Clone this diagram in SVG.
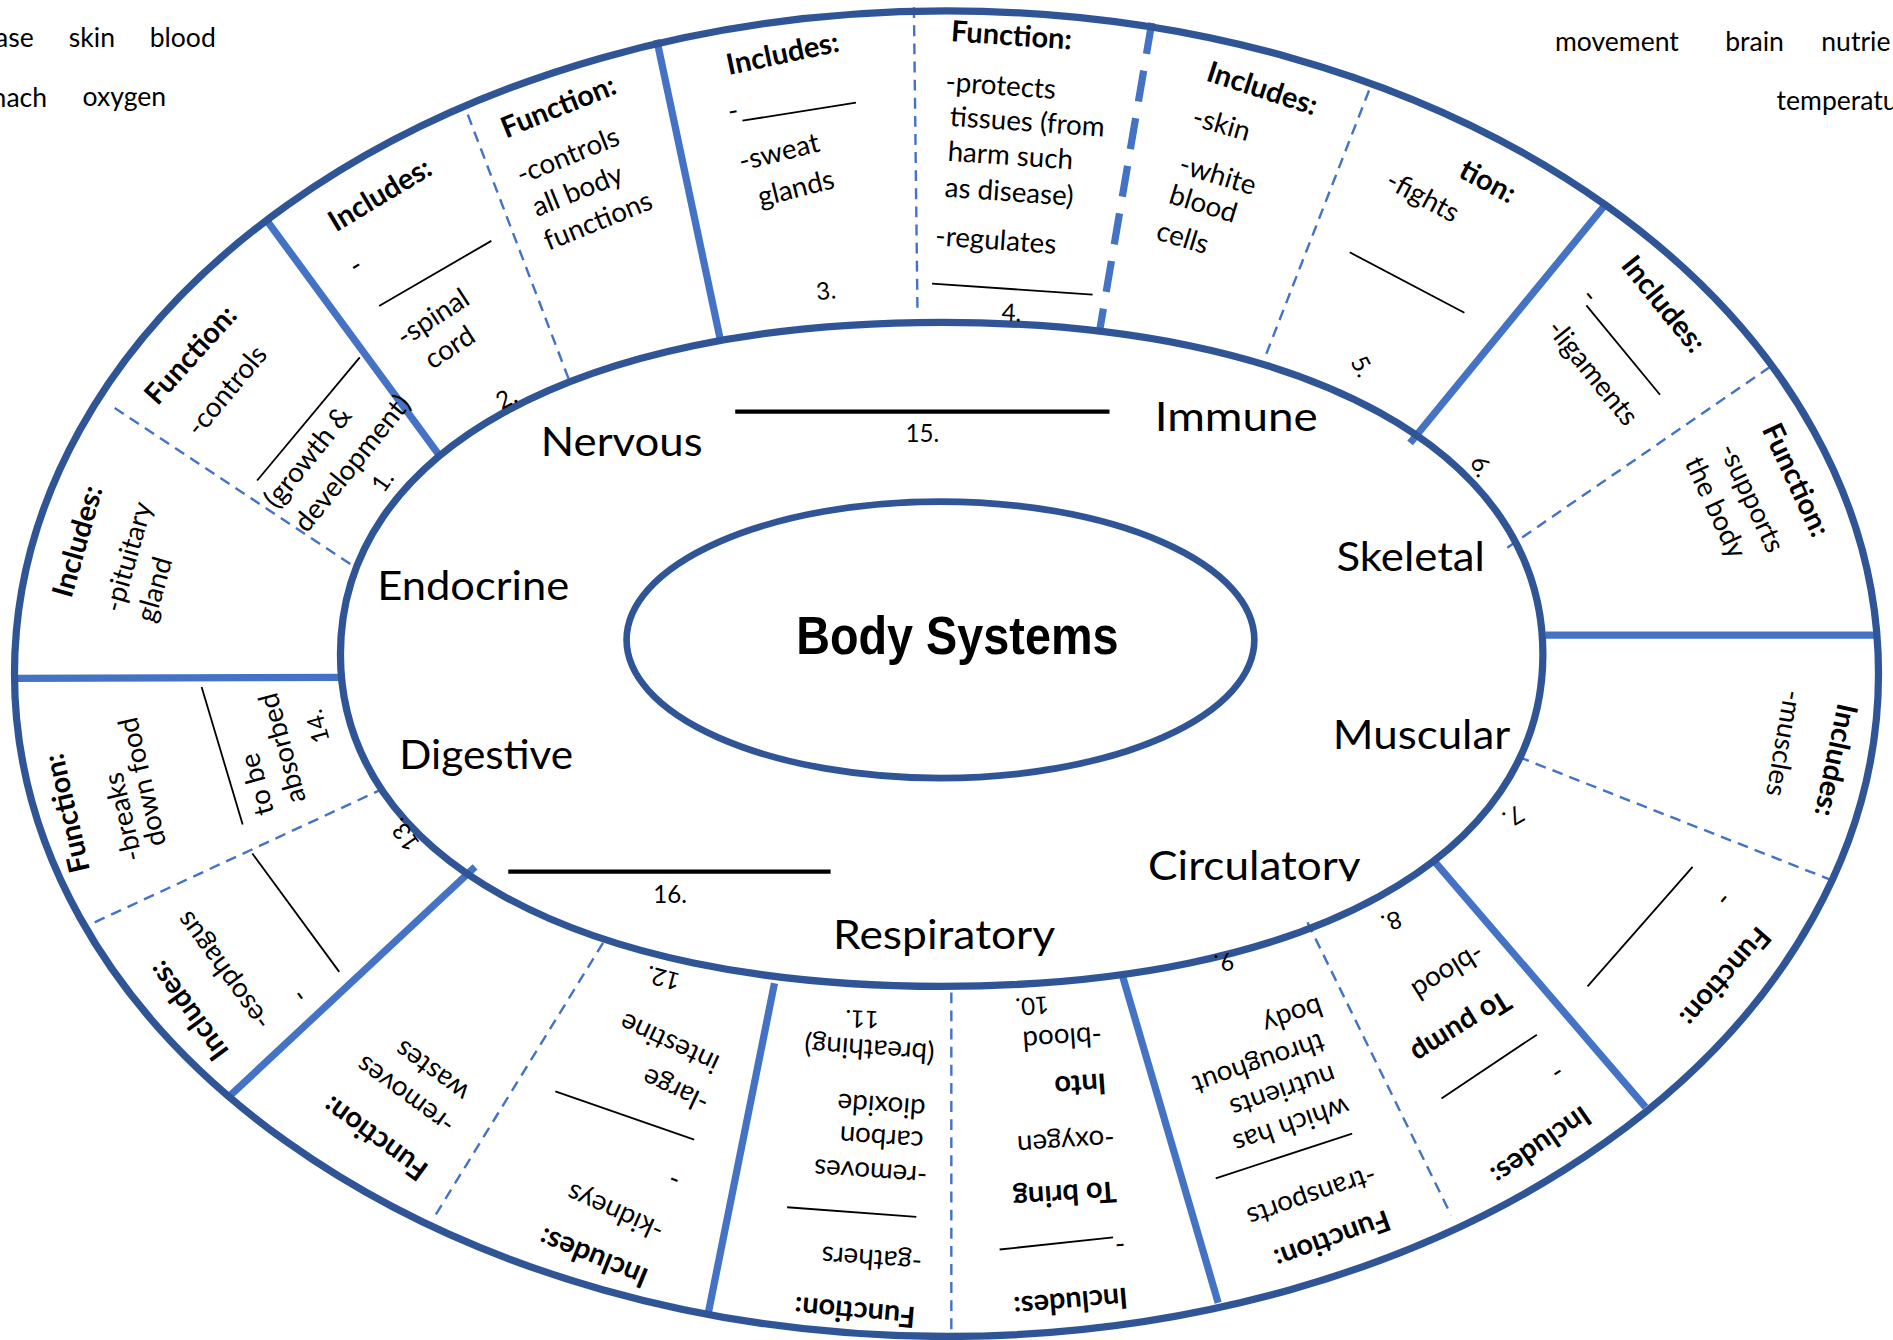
<svg xmlns="http://www.w3.org/2000/svg" width="1893" height="1340" viewBox="0 0 1893 1340">
<defs>
<style>
.ring{fill:none;stroke:#2F5597;stroke-width:6}
.dv{fill:none;stroke:#4472C4;stroke-width:6}
.ds{fill:none;stroke:#4472C4;stroke-width:2;stroke-dasharray:9 6}
.tds{fill:none;stroke:#4472C4;stroke-width:6;stroke-dasharray:26 14}
.bl{stroke:#000;stroke-width:1.5}
.long{stroke:#000;stroke-width:3.5}
.t{font-family:Lato,"Open Sans","Liberation Sans",sans-serif;font-size:23px;text-anchor:middle;dominant-baseline:central;fill:#000}
.b{font-weight:700;font-size:24px}
.n{font-size:20px}
.sys{font-size:33px}
.w{font-family:Lato,"Open Sans","Liberation Sans",sans-serif;font-size:22px;fill:#000}
.title{font-family:"Liberation Sans",Arial,sans-serif;font-weight:700;font-size:44px;text-anchor:middle;dominant-baseline:central;fill:#000}
</style>
<clipPath id="circClip"><rect x="900" y="680" width="300" height="50"/></clipPath>
</defs>
<rect width="1893" height="1340" fill="#fff"/>
<g transform="scale(1.20727)">
<g id="wordbank">
<text class="w" x="28" y="38.7" text-anchor="end">ase</text>
<text class="w" x="57" y="38.7">skin</text>
<text class="w" x="124" y="38.7">blood</text>
<text class="w" x="39" y="88.4" text-anchor="end">nach</text>
<text class="w" x="68.4" y="88">oxygen</text>
<text class="w" x="1288" y="42">movement</text>
<text class="w" x="1429" y="42">brain</text>
<text class="w" x="1508.6" y="42">nutrie</text>
<text class="w" x="1471.6" y="91">temperatu</text>
</g>
<g id="connectors">
<line class="dv" x1="222" y1="184" x2="364.5" y2="378"/>
<line class="dv" x1="544" y1="33" x2="597" y2="283"/>
<line class="tds" x1="954" y1="19" x2="911" y2="273"/>
<line class="dv" x1="1331" y1="168" x2="1168" y2="367"/>
<line class="dv" x1="1280" y1="526" x2="1553" y2="526"/>
<line class="dv" x1="1186" y1="711" x2="1363" y2="917"/>
<line class="dv" x1="930" y1="809" x2="1009" y2="1079"/>
<line class="dv" x1="641.5" y1="814.5" x2="586.6" y2="1088"/>
<line class="dv" x1="393.5" y1="718" x2="189" y2="909"/>
<line class="dv" x1="10" y1="562" x2="283" y2="561"/>
<line class="ds" x1="387.5" y1="95" x2="473" y2="319"/>
<line class="ds" x1="757" y1="6" x2="760" y2="261"/>
<line class="ds" x1="1134" y1="75" x2="1047" y2="298"/>
<line class="ds" x1="1466" y1="304" x2="1248" y2="454"/>
<line class="ds" x1="1258" y1="627" x2="1517" y2="729"/>
<line class="ds" x1="1083" y1="764" x2="1202" y2="1006.6"/>
<line class="ds" x1="788" y1="822" x2="788" y2="1104"/>
<line class="ds" x1="499.5" y1="781" x2="360.6" y2="1006.6"/>
<line class="ds" x1="318" y1="653" x2="74" y2="766"/>
<line class="ds" x1="95" y1="338" x2="296" y2="471"/>
</g>
<g id="rings">
<ellipse class="ring" cx="784" cy="558" rx="772" ry="549"/>
<path class="ring" d="M1278,542 C1278,709.8 1082.8,817 780,817 C477.2,817 282,709.8 282,542 C282,374.2 477.2,267 780,267 C1082.8,267 1278,374.2 1278,542 Z"/>
</g>
<g id="center">
<ellipse class="ring" cx="779" cy="530" rx="260" ry="114.5" style="stroke-width:5.5"/>
<text class="title" x="793" y="526" textLength="267" lengthAdjust="spacingAndGlyphs">Body Systems</text>
</g>
<g id="endocrine">
<text class="t sys" x="392" y="484" textLength="159" lengthAdjust="spacingAndGlyphs">Endocrine</text>
<text class="t b" transform="translate(63 448) rotate(-74)">Includes:</text>
<text class="t" transform="translate(105 461) rotate(-74)">-pituitary</text>
<text class="t" transform="translate(127 488) rotate(-74)">gland</text>
<text class="t b" transform="translate(157 293) rotate(-48)">Function:</text>
<text class="t" transform="translate(187 323) rotate(-50)">-controls</text>
<line class="bl" x1="213" y1="398" x2="298" y2="296"/>
<text class="t" transform="translate(254 378) rotate(-51)">(growth &amp;</text>
<text class="t" transform="translate(291 383) rotate(-51)">development)</text>
<text class="t n" transform="translate(316 398) rotate(-55)">1.</text>
</g>
<g id="nervous">
<text class="t sys" x="515" y="365" textLength="134" lengthAdjust="spacingAndGlyphs">Nervous</text>
<text class="t b" transform="translate(314 160) rotate(-31)">Includes:</text>
<text class="t" transform="translate(294 219) rotate(-31)">-</text>
<line class="bl" x1="314" y1="253.5" x2="407" y2="199.5"/>
<text class="t" transform="translate(358 262) rotate(-33)">-spinal</text>
<text class="t" transform="translate(372 287) rotate(-33)">cord</text>
<text class="t n" transform="translate(419 329) rotate(-28)">2.</text>
<text class="t b" transform="translate(462 87) rotate(-22)">Function:</text>
<text class="t" transform="translate(470 128) rotate(-22)">-controls</text>
<text class="t" transform="translate(478 157) rotate(-22)">all body</text>
<text class="t" transform="translate(495 182) rotate(-22)">functions</text>
</g>
<g id="integumentary">
<line class="long" x1="609" y1="341" x2="919" y2="341"/>
<text class="t n" x="764" y="358">15.</text>
<text class="t b" transform="translate(648 43) rotate(-12)">Includes:</text>
<text class="t" transform="translate(607 91) rotate(-10)">-</text>
<line class="bl" x1="615" y1="100" x2="709" y2="85"/>
<text class="t" transform="translate(645 125) rotate(-14)">-sweat</text>
<text class="t" transform="translate(659 155) rotate(-14)">glands</text>
<text class="t n" transform="translate(684 240) rotate(-6)">3.</text>
<text class="t b" transform="translate(838 28) rotate(4)">Function:</text>
<text class="t" transform="translate(829 70) rotate(4)">-protects</text>
<text class="t" transform="translate(851 100) rotate(4)">tissues (from</text>
<text class="t" transform="translate(837 128) rotate(4)">harm such</text>
<text class="t" transform="translate(836 158) rotate(4)">as disease)</text>
<text class="t" transform="translate(825 198) rotate(4)">-regulates</text>
<line class="bl" x1="772" y1="235" x2="905" y2="244"/>
<text class="t n" transform="translate(838 258) rotate(3)">4.</text>
</g>
<g id="immune">
<text class="t sys" x="1024" y="344" textLength="135" lengthAdjust="spacingAndGlyphs">Immune</text>
<text class="t b" transform="translate(1046 72) rotate(18)">Includes:</text>
<text class="t" transform="translate(1012 102) rotate(16)">-skin</text>
<text class="t" transform="translate(1009 144) rotate(17)">-white</text>
<text class="t" transform="translate(997 168) rotate(17)">blood</text>
<text class="t" transform="translate(980 196) rotate(17)">cells</text>
<text class="t b" transform="translate(1233 149) rotate(28)">tion:</text>
<text class="t" transform="translate(1179 162) rotate(28)">-fights</text>
<line class="bl" x1="1118" y1="209" x2="1213" y2="259"/>
<text class="t n" transform="translate(1129 303) rotate(62)">5.</text>
</g>
<g id="skeletal">
<text class="t sys" x="1168.5" y="460.5" textLength="123" lengthAdjust="spacingAndGlyphs">Skeletal</text>
<text class="t b" transform="translate(1379 251) rotate(51)">Includes:</text>
<text class="t" transform="translate(1318 244) rotate(51)">-</text>
<line class="bl" x1="1314" y1="253" x2="1375" y2="327"/>
<text class="t" transform="translate(1320 308) rotate(51)">-ligaments</text>
<text class="t n" transform="translate(1228 386) rotate(65)">6.</text>
<text class="t b" transform="translate(1489 397) rotate(65)">Function:</text>
<text class="t" transform="translate(1452 412) rotate(65)">-supports</text>
<text class="t" transform="translate(1422 420) rotate(65)">the body</text>
</g>
<g id="muscular">
<text class="t sys" x="1177.5" y="607.5" textLength="147" lengthAdjust="spacingAndGlyphs">Muscular</text>
<text class="t b" transform="translate(1522 630) rotate(102)">Includes:</text>
<text class="t" transform="translate(1479 616) rotate(100)">-muscles</text>
<text class="t b" transform="translate(1430 810) rotate(131)">Function:</text>
<text class="t" transform="translate(1429 746) rotate(131)">-</text>
<line class="bl" x1="1402" y1="718" x2="1315" y2="817"/>
<text class="t n" transform="translate(1254 677) rotate(150)">7.</text>
</g>
<g id="circulatory">
<text class="t sys" x="1039" y="716" textLength="176" lengthAdjust="spacingAndGlyphs" clip-path="url(#circClip)">Circulatory</text>
<text class="t b" transform="translate(1277 950) rotate(145)">Includes:</text>
<text class="t" transform="translate(1291 890) rotate(147)">-</text>
<line class="bl" x1="1273" y1="857" x2="1194" y2="910"/>
<text class="t b" transform="translate(1211 852) rotate(148)">To pump</text>
<text class="t" transform="translate(1200 806) rotate(148)">-blood</text>
<text class="t n" transform="translate(1153 764) rotate(160)">8.</text>
<text class="t b" transform="translate(1104 1028) rotate(160)">Function:</text>
<text class="t" transform="translate(1087 992) rotate(161)">-transports</text>
<line class="bl" x1="1007" y1="976" x2="1120" y2="939"/>
<text class="t" transform="translate(1070 933) rotate(161)">which has</text>
<text class="t" transform="translate(1063 905) rotate(161)">nutrients</text>
<text class="t" transform="translate(1043 882) rotate(161)">throughout</text>
<text class="t" transform="translate(1071 842) rotate(161)">body</text>
<text class="t n" transform="translate(1014 798) rotate(170)">9.</text>
</g>
<g id="respiratory">
<text class="t sys" x="782" y="773" textLength="184" lengthAdjust="spacingAndGlyphs">Respiratory</text>
<text class="t b" transform="translate(887 1080) rotate(175)">Includes:</text>
<text class="t" transform="translate(928 1033) rotate(175)">-</text>
<line class="bl" x1="828" y1="1035" x2="922" y2="1025"/>
<text class="t b" transform="translate(882 991) rotate(176)">To bring</text>
<text class="t" transform="translate(883 947) rotate(176)">-oxygen</text>
<text class="t b" transform="translate(895 900) rotate(176)">Into</text>
<text class="t" transform="translate(880 861) rotate(176)">-blood</text>
<text class="t n" transform="translate(855 834) rotate(176)">10.</text>
<text class="t b" transform="translate(708 1088) rotate(-175)">Function:</text>
<text class="t" transform="translate(722 1044) rotate(-176)">-gathers</text>
<line class="bl" x1="652" y1="1000" x2="759" y2="1008"/>
<text class="t" transform="translate(721 972) rotate(-176)">-removes</text>
<text class="t" transform="translate(730 944) rotate(-176)">carbon</text>
<text class="t" transform="translate(730 917) rotate(-176)">dioxide</text>
<text class="t" transform="translate(720 870) rotate(-176)">(breathing)</text>
<text class="t n" transform="translate(714 845) rotate(-178)">11.</text>
</g>
<g id="excretory">
<line class="long" x1="421" y1="722" x2="688" y2="722"/>
<text class="t n" x="555" y="740">16.</text>
<text class="t b" transform="translate(491 1043) rotate(-158)">Includes:</text>
<text class="t" transform="translate(509 1005) rotate(-156)">-kidneys</text>
<text class="t" transform="translate(558 979) rotate(-158)">-</text>
<line class="bl" x1="460" y1="904" x2="575" y2="944"/>
<text class="t" transform="translate(559 904) rotate(-155)">-large</text>
<text class="t" transform="translate(554 865) rotate(-155)">intestine</text>
<text class="t n" transform="translate(549 811) rotate(-165)">12.</text>
<text class="t b" transform="translate(310 944) rotate(-144)">Function:</text>
<text class="t" transform="translate(335 908) rotate(-144)">-removes</text>
<text class="t" transform="translate(357 888) rotate(-144)">wastes</text>
</g>
<g id="digestive">
<text class="t sys" x="402.8" y="624" textLength="144" lengthAdjust="spacingAndGlyphs">Digestive</text>
<text class="t b" transform="translate(54 674) rotate(-103)">Function:</text>
<text class="t" transform="translate(101 677) rotate(-103)">-breaks</text>
<text class="t" transform="translate(117 648) rotate(-103)">down food</text>
<line class="bl" x1="167" y1="569" x2="201" y2="683"/>
<text class="t" transform="translate(212 650) rotate(-105)">to be</text>
<text class="t" transform="translate(233 620) rotate(-105)">absorbed</text>
<text class="t n" transform="translate(262 602) rotate(-105)">14.</text>
<text class="t b" transform="translate(155 838) rotate(-126)">Includes:</text>
<text class="t" transform="translate(184 805) rotate(-126)">-esophagus</text>
<text class="t" transform="translate(247 826) rotate(-126)">-</text>
<line class="bl" x1="209" y1="707" x2="281" y2="805"/>
<text class="t n" transform="translate(334 692) rotate(-125)">13.</text>
</g>
</g>
</svg>
